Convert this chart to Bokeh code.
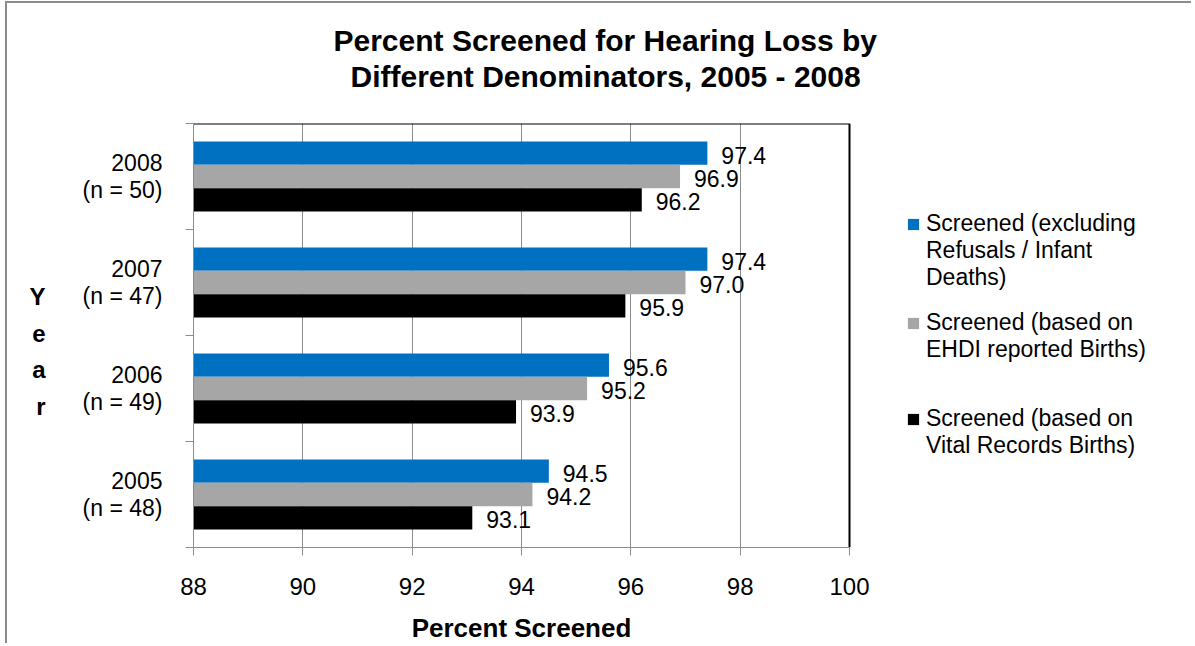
from bokeh.plotting import figure
from bokeh.models import (ColumnDataSource, FixedTicker, Title, Legend, LegendItem,
                          Range1d, LinearAxis)
from bokeh.core.properties import value
from bokeh.embed import file_html
from bokeh.resources import INLINE

# ---- data ----
years = ["2005", "2006", "2007", "2008"]
n_states = [48, 49, 47, 50]
excl_refusals = [94.5, 95.6, 97.4, 97.4]
ehdi_births = [94.2, 95.2, 97.0, 96.9]
vital_births = [93.1, 93.9, 95.9, 96.2]
x_ticks = [88, 90, 92, 94, 96, 98, 100]
series_labels = [["Screened (excluding", "Refusals / Infant", "Deaths)"],
                 ["Screened (based on", "EHDI reported Births)"],
                 ["Screened (based on", "Vital Records Births)"]]
series_colors = ["#0070C0", "#A6A6A6", "#000000"]
title_lines = ["Percent Screened for Hearing Loss by",
               "Different Denominators, 2005 - 2008"]
y_axis_title = "Y\ne\na\nr"
x_axis_title = "Percent Screened"

FONT = "Liberation Sans"
GRAY = "#8C8C8C"

# ---- layout (pixels) ----
PLOT_W, PLOT_H = 1186, 642
BORDER_L, BORDER_T, BORDER_B = 186, 120, 97
AXIS_PX = 656                     # pixel width of the 88..100 axis
x_min, x_max = x_ticks[0], x_ticks[-1]
y_min, y_max = 0, len(years)
# the frame is widened to the right so that the legend can live inside it
x_view_end = x_min + (x_max - x_min) * (PLOT_W - BORDER_L) / AXIS_PX

p = figure(width=PLOT_W, height=PLOT_H, output_backend="svg", toolbar_location=None,
           x_range=Range1d(x_min, x_view_end), y_range=Range1d(y_min, y_max),
           min_border_left=BORDER_L, min_border_right=0, min_border_top=BORDER_T,
           min_border_bottom=BORDER_B, background_fill_color="white",
           border_fill_color="white")
p.title = None
p.outline_line_color = None

centers = [i + 0.5 for i in range(len(years))]
offsets = [0.22, 0.0, -0.22]
series = [excl_refusals, ehdi_births, vital_births]

# grid
p.xgrid.grid_line_color = GRAY
p.xgrid.ticker = FixedTicker(ticks=x_ticks[1:-1])
p.ygrid.grid_line_color = None

renderers = []
for vals, off, col in zip(series, offsets, series_colors):
    src = ColumnDataSource(dict(y=[c + off for c in centers], x=vals,
                                label=[f"{v:.1f}" for v in vals]))
    r = p.hbar(y="y", left=x_min, right="x", height=0.22, source=src,
               fill_color=col, line_color=None)
    renderers.append(r)
    p.text(x="x", y="y", text="label", source=src, x_offset=14, y_offset=2,
           text_baseline="middle", text_align="left",
           text_font=value(FONT), text_font_size="23px", text_color="black")

# plot-area border: black top and right edges
p.segment(x0=[x_min, x_max], y0=[y_max, y_min], x1=[x_max, x_max], y1=[y_max, y_max],
          line_color="black", line_width=2)

# x axis
p.xaxis.bounds = (x_min, x_max)
p.xaxis.ticker = FixedTicker(ticks=x_ticks)
p.xaxis.axis_line_color = GRAY
p.xaxis.major_tick_line_color = GRAY
p.xaxis.major_tick_out = 8
p.xaxis.major_tick_in = 0
p.xaxis.minor_tick_line_color = None
p.xaxis.major_label_standoff = 22
p.xaxis.major_label_text_font = FONT
p.xaxis.major_label_text_font_size = "24px"
p.xaxis.major_label_text_color = "black"

# x axis title, centred under the 88..100 span
x_mid = (x_min + x_max) / 2
x_title_axis = LinearAxis(ticker=FixedTicker(ticks=[x_mid]),
                          major_label_overrides={x_mid: x_axis_title},
                          axis_line_color=None, major_tick_line_color=None,
                          minor_tick_line_color=None, major_tick_out=0, major_tick_in=0,
                          major_label_standoff=15, major_label_text_font=FONT,
                          major_label_text_font_size="26px",
                          major_label_text_font_style="bold",
                          major_label_text_color="black")
p.add_layout(x_title_axis, "below")

# y axis (category labels centred, ticks on the category boundaries)
p.yaxis.ticker = FixedTicker(ticks=centers, minor_ticks=list(range(y_min, y_max + 1)))
p.yaxis.major_label_overrides = {c: f"{y}\n(n = {n})" for c, y, n in zip(centers, years, n_states)}
p.yaxis.axis_line_color = GRAY
p.yaxis.major_tick_line_color = None
p.yaxis.major_tick_out = 0
p.yaxis.major_tick_in = 0
p.yaxis.minor_tick_line_color = GRAY
p.yaxis.minor_tick_out = 8
p.yaxis.minor_tick_in = 0
p.yaxis.major_label_standoff = 23
p.yaxis.major_label_text_font = FONT
p.yaxis.major_label_text_font_size = "23px"
p.yaxis.major_label_text_color = "black"
p.yaxis.major_label_text_align = "center"
p.yaxis.major_label_text_line_height = 1.02

# stacked "Year" axis title
year_pos = 1.85
year_axis = LinearAxis(ticker=FixedTicker(ticks=[year_pos]),
                       major_label_overrides={year_pos: y_axis_title},
                       axis_line_color=None, major_tick_line_color=None,
                       minor_tick_line_color=None, major_tick_out=0, major_tick_in=0,
                       major_label_standoff=34, major_label_text_font=FONT,
                       major_label_text_font_size="24px",
                       major_label_text_font_style="bold",
                       major_label_text_color="black",
                       major_label_text_align="center",
                       major_label_text_line_height=1.36)
p.add_layout(year_axis, "left")

# titles (spacer first = closest to the frame)
p.add_layout(Title(text=" ", text_font_size="10px", standoff=17), "above")
p.add_layout(Title(text=title_lines[1], align="left", offset=157, standoff=1,
                   text_font=FONT, text_font_size="30px", text_font_style="bold",
                   text_color="black"), "above")
p.add_layout(Title(text=title_lines[0], align="left", offset=140, standoff=1,
                   text_font=FONT, text_font_size="30px", text_font_style="bold",
                   text_color="black"), "above")

# legend: one block per series, marker beside the first line
blank = p.hbar(y=[], right=[], height=0.22, fill_alpha=0, line_alpha=0)
legend_bottoms = [256, 184, 88]
for lines, r, yb in zip(series_labels, renderers, legend_bottoms):
    items = [LegendItem(label=lines[0], renderers=[r])]
    items += [LegendItem(label=ln, renderers=[blank]) for ln in lines[1:]]
    lg = Legend(items=items, location=(713, yb), orientation="vertical",
                label_text_font=FONT, label_text_font_size="23px",
                label_text_color="black", label_height=27,
                glyph_width=14, glyph_height=14, label_standoff=6,
                spacing=0, padding=0, margin=0,
                border_line_color=None, background_fill_alpha=0)
    p.add_layout(lg, "center")

p.styles = {"border-left": f"2px solid {GRAY}", "border-top": f"2px solid {GRAY}",
            "margin-left": "5px", "margin-top": "1px"}

open("out.html", "w").write(file_html(p, INLINE))
